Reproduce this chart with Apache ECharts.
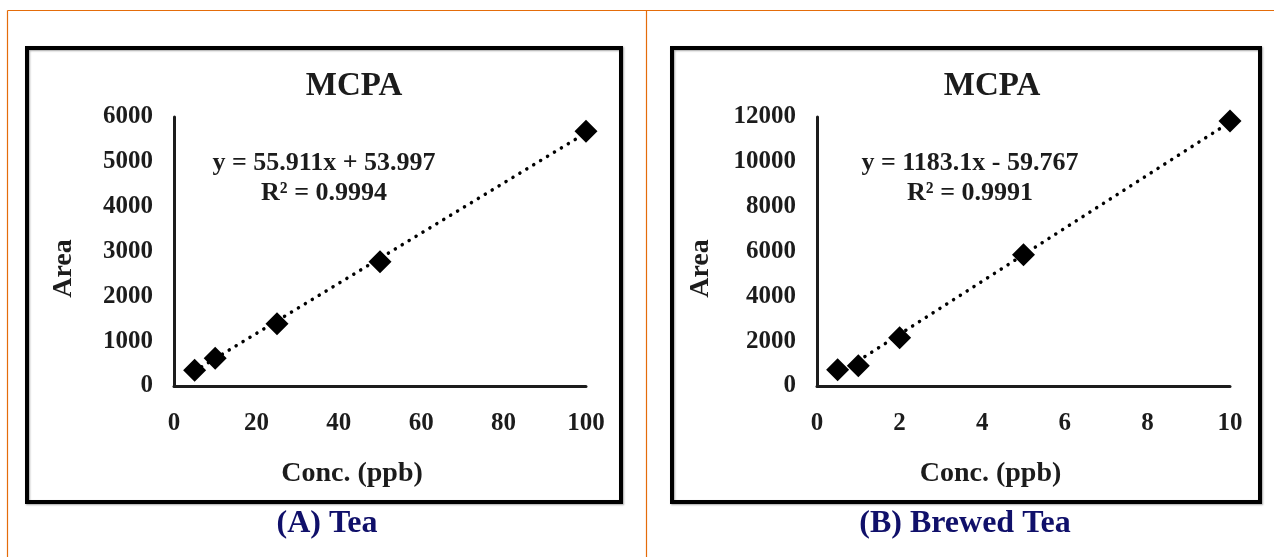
<!DOCTYPE html>
<html>
<head>
<meta charset="utf-8">
<title>MCPA</title>
<script src="https://cdn.jsdelivr.net/npm/echarts@6/dist/echarts.min.js"></script>
<style>
html, body { margin: 0; padding: 0; background: #fff; }
#main { width: 1274px; height: 557px; }
</style>
</head>
<body>
<div id="main"></div>
<script>
// (A) Tea
var concA = [5, 10, 25, 50, 100];
var areaA = [350, 620, 1390, 2770, 5680];
var trendA = [[5, 334], [100, 5645]];
var xTicksA = [0, 20, 40, 60, 80, 100];
var yTicksA = [0, 1000, 2000, 3000, 4000, 5000, 6000];
var eqA = ["y = 55.911x + 53.997", "R\u00b2 = 0.9994"];

// (B) Brewed Tea
var concB = [0.5, 1, 2, 5, 10];
var areaB = [720, 900, 2150, 5850, 11820];
var trendB = [[0.5, 532], [10, 11771]];
var xTicksB = [0, 2, 4, 6, 8, 10];
var yTicksB = [0, 2000, 4000, 6000, 8000, 10000, 12000];
var eqB = ["y = 1183.1x - 59.767", "R\u00b2 = 0.9991"];

var captions = ["(A) Tea", "(B) Brewed Tea"];
var chartTitle = "MCPA";

var serif = "Liberation Serif";
var orange = "#E46C0A";
var ink = "#1c1c1c";

function pairs(x, y) {
    var out = [];
    for (var i = 0; i < x.length; i++) out.push([x[i], y[i]]);
    return out;
}

function xAxisOf(ticks, idx, shift) {
    return {
        type: 'value', gridIndex: idx,
        min: ticks[0], max: ticks[ticks.length - 1], interval: ticks[1] - ticks[0],
        name: 'Conc. (ppb)', nameLocation: 'middle', nameGap: 74,
        nameTextStyle: { fontFamily: serif, fontWeight: 'bold', fontSize: 28, color: ink,
                         padding: [0, shift * 2, 0, 0] },
        axisLine: { lineStyle: { color: ink, width: 3 } },
        axisTick: { show: false },
        splitLine: { show: false },
        axisLabel: { fontFamily: serif, fontWeight: 'bold', fontSize: 25, color: ink, margin: 25,
                     formatter: function (v) { return String(v); } }
    };
}

function yAxisOf(ticks, idx, gap) {
    return {
        type: 'value', gridIndex: idx,
        min: ticks[0], max: ticks[ticks.length - 1], interval: ticks[1] - ticks[0],
        name: 'Area', nameLocation: 'middle', nameGap: gap, nameRotate: 90,
        nameTextStyle: { fontFamily: serif, fontWeight: 'bold', fontSize: 28, color: ink,
                         padding: [0, 34, 0, 0] },
        axisLine: { show: true, lineStyle: { color: ink, width: 3 } },
        axisTick: { show: false },
        splitLine: { show: false },
        axisLabel: { fontFamily: serif, fontWeight: 'bold', fontSize: 25, color: ink, margin: 21,
                     formatter: function (v) { return String(v); } }
    };
}

function pointSeries(data, idx) {
    return {
        type: 'scatter', xAxisIndex: idx, yAxisIndex: idx,
        symbol: 'diamond', symbolSize: 23,
        itemStyle: { color: '#000', opacity: 1 },
        data: data, z: 5
    };
}

function trendSeries(data, idx) {
    return {
        type: 'line', xAxisIndex: idx, yAxisIndex: idx,
        showSymbol: false, silent: true,
        lineStyle: { color: '#000', width: 3.5, type: [0.1, 8], cap: 'round' },
        data: data, z: 3
    };
}

function eqText(lines, cx) {
    return [
        { type: 'text', style: { text: lines[0], x: cx, y: 163, font: 'bold 26px "' + serif + '"', fill: ink,
                                 textAlign: 'center', textVerticalAlign: 'middle' } },
        { type: 'text', style: { text: lines[1], x: cx, y: 193, font: 'bold 26px "' + serif + '"', fill: ink,
                                 textAlign: 'center', textVerticalAlign: 'middle' } }
    ];
}

function titleOf(text, cx, top, size, color) {
    return { text: text, left: cx, top: top, textAlign: 'center', padding: 0,
             textStyle: { fontFamily: serif, fontWeight: 'bold', fontSize: size, color: color } };
}

var myChart = echarts.init(document.getElementById('main'));
var option = {
    animation: false,
    backgroundColor: '#fff',
    title: [
        titleOf(chartTitle, 354, 70, 33, ink),
        titleOf(chartTitle, 992, 70, 33, ink),
        titleOf(captions[0], 327, 508, 32, '#10106a'),
        titleOf(captions[1], 965, 508, 32, '#10106a')
    ],
    grid: [
        { left: 174, top: 117, width: 412, height: 269 },
        { left: 817, top: 117, width: 413, height: 269 }
    ],
    xAxis: [xAxisOf(xTicksA, 0, 28), xAxisOf(xTicksB, 1, 33)],
    yAxis: [yAxisOf(yTicksA, 0, 96), yAxisOf(yTicksB, 1, 102)],
    series: [
        trendSeries(trendA, 0),
        pointSeries(pairs(concA, areaA), 0),
        trendSeries(trendB, 1),
        pointSeries(pairs(concB, areaB), 1)
    ],
    graphic: [
        // orange table rules
        { type: 'line', shape: { x1: 7.5, y1: 10.5, x2: 1274, y2: 10.5 }, style: { stroke: orange, lineWidth: 1.2 } },
        { type: 'line', shape: { x1: 7.5, y1: 10.5, x2: 7.5, y2: 557 }, style: { stroke: orange, lineWidth: 1.2 } },
        { type: 'line', shape: { x1: 646.5, y1: 10.5, x2: 646.5, y2: 557 }, style: { stroke: orange, lineWidth: 1.2 } },
        // chart frames
        { type: 'rect', shape: { x: 27, y: 48, width: 594, height: 454 },
          style: { fill: null, stroke: '#000', lineWidth: 4, shadowColor: 'rgba(0,0,0,0.35)', shadowBlur: 2, shadowOffsetX: 1, shadowOffsetY: 1 } },
        { type: 'rect', shape: { x: 672, y: 48, width: 588, height: 454 },
          style: { fill: null, stroke: '#000', lineWidth: 4, shadowColor: 'rgba(0,0,0,0.35)', shadowBlur: 2, shadowOffsetX: 1, shadowOffsetY: 1 } }
    ].concat(eqText(eqA, 324)).concat(eqText(eqB, 970))
};
myChart.setOption(option);
</script>
</body>
</html>
